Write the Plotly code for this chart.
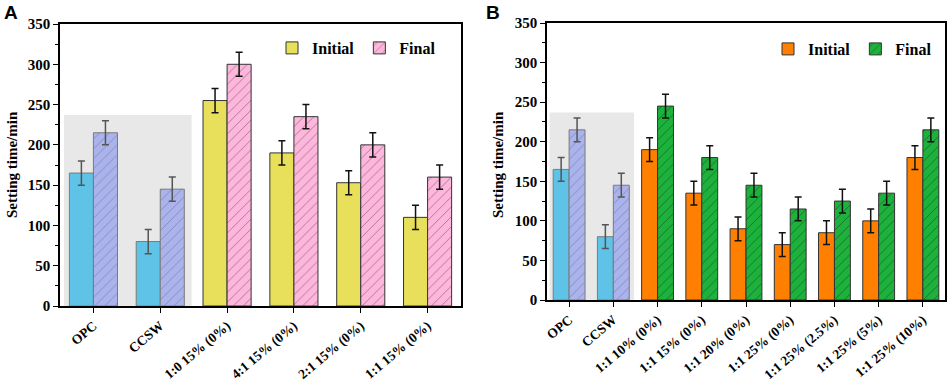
import plotly.graph_objects as go

# ---- data ----
ctrl_cats = ["OPC", "CCSW"]
ctrl_initial = [165, 80]
ctrl_final = [215, 145]
ctrl_err = [15, 15]

a_cats = ["1:0 15% (0%)", "4:1 15% (0%)", "2:1 15% (0%)", "1:1 15% (0%)"]
a_initial = [255, 190, 153, 110]
a_final = [300, 235, 200, 160]
a_err = [15, 15, 15, 15]

b_cats = ["1:1 10% (0%)", "1:1 15% (0%)", "1:1 20% (0%)", "1:1 25% (0%)",
          "1:1 25% (2.5%)", "1:1 25% (5%)", "1:1 25% (10%)"]
b_initial = [190, 135, 90, 70, 85, 100, 180]
b_final = [245, 180, 145, 115, 125, 135, 215]
b_err = [15, 15, 15, 15, 15, 15, 15]

y_ticks = [0, 50, 100, 150, 200, 250, 300, 350]
shade_top = 237

FONT = "Liberation Serif, Times New Roman, serif"
W, H = 948, 383

BLUE = "#5EC3E6"
LAV = "#AAB3EB"
YEL = "#E8E05A"
PINK = "#FFB6DC"
ORANGE = "#FF8000"
GREEN = "#1DB23C"

fig = go.Figure()


def add_bar(xs, ys, err, color, line_color, err_color, xa, ya, og, name=None,
            show=False, pattern=False, pat_fg="#333", legend="legend"):
    kw = {}
    if pattern:
        kw = dict(pattern=dict(shape="/", fgcolor=pat_fg, size=7, solidity=0.12,
                               fillmode="overlay"))
    fig.add_trace(go.Bar(
        x=xs, y=ys, name=name, showlegend=show, legend=legend,
        xaxis=xa, yaxis=ya, offsetgroup=og,
        marker=dict(color=color, line=dict(color=line_color, width=1), **kw),
        error_y=dict(type="data", array=err, visible=True, color=err_color,
                     thickness=1.5, width=3.5),
    ))


# Panel A
add_bar(ctrl_cats, ctrl_initial, ctrl_err, BLUE, "#7a7a7a", "#555555", "x", "y", "i")
add_bar(ctrl_cats, ctrl_final, ctrl_err, LAV, "#7a7a7a", "#555555", "x", "y", "f",
        pattern=True, pat_fg="#5a5f80")
add_bar(a_cats, a_initial, a_err, YEL, "#333333", "#111111", "x", "y", "i",
        name="Initial", show=True, legend="legend")
add_bar(a_cats, a_final, a_err, PINK, "#333333", "#111111", "x", "y", "f",
        name="Final", show=True, pattern=True, pat_fg="#333333", legend="legend")

# Panel B
add_bar(ctrl_cats, ctrl_initial, ctrl_err, BLUE, "#7a7a7a", "#555555", "x2", "y2", "i")
add_bar(ctrl_cats, ctrl_final, ctrl_err, LAV, "#7a7a7a", "#555555", "x2", "y2", "f",
        pattern=True, pat_fg="#5a5f80")
add_bar(b_cats, b_initial, b_err, ORANGE, "#333333", "#111111", "x2", "y2", "i",
        name="Initial", show=True, legend="legend2")
add_bar(b_cats, b_final, b_err, GREEN, "#333333", "#111111", "x2", "y2", "f",
        name="Final", show=True, pattern=True, pat_fg="#1a1a1a", legend="legend2")

# domains from pixel positions
ax_a = (60 / W, 461 / W)
ax_b = (547 / W, 945 / W)
ya_dom = ((H - 306) / H, (H - 24) / H)
yb_dom = ((H - 300) / H, (H - 23) / H)

tickfont = dict(family=FONT, size=13.5, color="black", weight="bold")

xcommon = dict(type="category", showline=True, linecolor="black", linewidth=1.5,
               mirror=True, ticks="outside", ticklen=5, tickwidth=1.2,
               tickcolor="black", tickangle=-40, tickfont=tickfont,
               showgrid=False, zeroline=False, automargin=False, fixedrange=True)
ycommon = dict(range=[0, 350], tickvals=y_ticks, showline=True, linecolor="black",
               linewidth=1.5, mirror=True, ticks="outside", ticklen=5, tickwidth=1.2,
               tickcolor="black", tickfont=dict(family=FONT, size=15, color="black",
                                                weight="bold"),
               showgrid=False, zeroline=False, automargin=False, fixedrange=True,
               minor=dict(dtick=25, ticks="outside", ticklen=3, tickcolor="black",
                          tickwidth=1),
               tick0=0)

legfont = dict(family=FONT, size=16, color="black", weight="bold")

fig.update_layout(
    width=W, height=H,
    margin=dict(l=0, r=0, t=0, b=0),
    paper_bgcolor="white", plot_bgcolor="white",
    font=dict(family=FONT, color="black"),
    barmode="group", bargap=0.28, bargroupgap=0,
    xaxis=dict(domain=ax_a, anchor="y", categoryorder="array",
               categoryarray=ctrl_cats + a_cats, range=[-0.5, len(ctrl_cats + a_cats) - 0.5],
               **xcommon),
    yaxis=dict(domain=ya_dom, anchor="x", **ycommon),
    xaxis2=dict(domain=ax_b, anchor="y2", categoryorder="array",
                categoryarray=ctrl_cats + b_cats, range=[-0.5, len(ctrl_cats + b_cats) - 0.5],
                **xcommon),
    yaxis2=dict(domain=yb_dom, anchor="x2", **ycommon),
    legend=dict(orientation="h", x=441 / W, xanchor="right", y=1 - 31 / H, yanchor="top",
                bgcolor="rgba(0,0,0,0)", font=legfont, itemwidth=30, traceorder="normal"),
    legend2=dict(orientation="h", x=937 / W, xanchor="right", y=1 - 32 / H, yanchor="top",
                 bgcolor="rgba(0,0,0,0)", font=legfont, itemwidth=30, traceorder="normal"),
    showlegend=True,
)

# gray shading behind control groups
for xr, yr in (("x", "y"), ("x2", "y2")):
    fig.add_shape(type="rect", xref=xr, yref=yr, x0=-0.44, x1=1.47, y0=0, y1=shade_top,
                  fillcolor="#E8E8E8", line=dict(width=0), layer="below")

# axis titles and panel letters
for xp in (12, 498):
    fig.add_annotation(text="Setting time/min", xref="paper", yref="paper",
                       x=xp / W, y=(H - 165) / H, textangle=-90, showarrow=False,
                       font=dict(family=FONT, size=15, color="black", weight="bold"),
                       xanchor="center", yanchor="middle")
for letter, xp in (("A", 2), ("B", 484)):
    fig.add_annotation(text=letter, xref="paper", yref="paper", x=xp / W, y=1.0,
                       xanchor="left", yanchor="top", showarrow=False,
                       font=dict(family="Liberation Sans", size=19, color="black",
                                 weight="bold"))

fig.write_html("out.html", config={"displayModeBar": False},
               post_script="document.body.style.margin='0';")
